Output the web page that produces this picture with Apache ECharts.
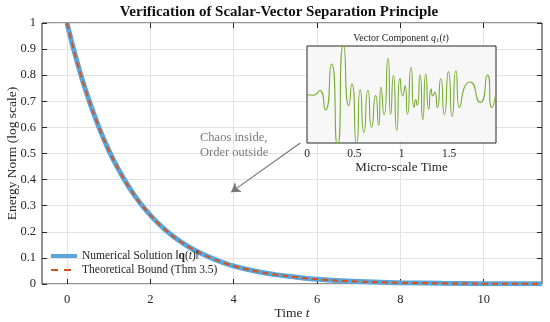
<!DOCTYPE html>
<html>
<head>
<meta charset="utf-8">
<script src="https://cdn.jsdelivr.net/npm/echarts@6/dist/echarts.min.js"></script>
<style>html,body{margin:0;padding:0;background:#fff}#c{width:550px;height:322px}</style>
</head>
<body>
<div id="c"></div>
<script>
// ---- Data ----
var timeT = [0, 0.25, 0.5, 0.75, 1, 1.25, 1.5, 1.75, 2, 2.25, 2.5, 2.75, 3, 3.25, 3.5, 3.75, 4, 4.5, 5, 5.5, 6, 7, 8, 9, 10, 11.4];
var numericalNorm = [1.0, 0.846, 0.717, 0.607, 0.513, 0.435, 0.368, 0.311, 0.264, 0.223, 0.189, 0.16, 0.135, 0.115, 0.097, 0.082, 0.069, 0.05, 0.036, 0.026, 0.018, 0.0095, 0.005, 0.0025, 0.0013, 0.0005];
var theoreticalBound = [1.0, 0.846, 0.717, 0.607, 0.513, 0.435, 0.368, 0.311, 0.264, 0.223, 0.189, 0.16, 0.135, 0.115, 0.097, 0.082, 0.069, 0.05, 0.036, 0.026, 0.018, 0.0095, 0.005, 0.0025, 0.0013, 0.0005];
var xTicks = [0, 2, 4, 6, 8, 10];

var microT = [0, 0.064, 0.134, 0.194, 0.258, 0.322, 0.385, 0.442, 0.473, 0.523, 0.562, 0.60, 0.643, 0.682, 0.724, 0.756, 0.781, 0.813, 0.855, 0.883, 0.912, 0.947, 0.982, 1.01, 1.035, 1.06, 1.098, 1.13, 1.148, 1.162, 1.193, 1.222, 1.254, 1.285, 1.31, 1.328, 1.349, 1.376, 1.412, 1.45, 1.493, 1.532, 1.571, 1.609, 1.722, 1.828, 1.905, 1.952, 1.99];
var vectorQ1 = [0, -0.02, 0.11, -0.43, 0.85, -1.42, 1.38, -0.31, 0.3, -1.4, 0.13, -1.05, 0.11, -0.91, -0.03, -0.86, 0.2, -0.56, 1.01, -0.54, 0.53, -1.0, 0.45, -0.04, 0.24, -0.55, 0.75, -0.36, -0.15, -0.3, 0.55, -0.7, 0.56, -0.41, 0.15, -0.04, 0.06, -0.36, 0.44, -0.55, 0.63, -0.61, 0.66, -0.36, 0.35, -0.22, 0.54, -0.36, -0.02];
var insetXTicks = [0, 0.5, 1, 1.5];
var insetYTicks = [-1, 0, 1];

var arrowFrom = [5.6, 0.54];
var arrowTo = [3.94, 0.352];

function pairs(xs, ys) { return xs.map(function (x, i) { return [x, ys[i]]; }); }

var FONT = '"Liberation Serif", "Times New Roman", serif';
var INK = '#262626';
var chart = echarts.init(document.getElementById('c'), null, {renderer: 'canvas'});

function tickStyle(len, custom) {
  var t = {show: true, inside: true, length: len, lineStyle: {color: INK}};
  if (custom) t.customValues = custom;
  return t;
}
var noLine = {show: false, onZero: false};

var mainX = {
  type: 'value', gridIndex: 0, min: -0.6, max: 11.4,
  axisLine: noLine,
  axisTick: tickStyle(5, xTicks),
  axisLabel: {show: true, customValues: xTicks, margin: 9, color: INK, fontFamily: FONT, fontSize: 12.5},
  splitLine: {show: true, lineStyle: {color: '#e3e3e3', width: 1}},
  name: 'Time {i|t}', nameLocation: 'middle', nameGap: 22, nameMoveOverlap: false,
  nameTextStyle: {fontFamily: FONT, fontSize: 13.5, color: INK, rich: {i: {fontFamily: FONT, fontStyle: 'italic', fontSize: 13.5, color: INK}}}
};
var mainXTop = {
  type: 'value', gridIndex: 0, min: -0.6, max: 11.4, position: 'top',
  axisLine: noLine, axisTick: tickStyle(5, xTicks),
  axisLabel: {show: false}, splitLine: {show: false}
};
var mainY = {
  type: 'value', gridIndex: 0, min: 0, max: 1, interval: 0.1,
  axisLine: noLine, axisTick: tickStyle(5),
  axisLabel: {margin: 6, color: INK, fontFamily: FONT, fontSize: 12.5},
  splitLine: {show: true, lineStyle: {color: '#e3e3e3', width: 1}},
  name: 'Energy Norm (log scale)', nameLocation: 'middle', nameGap: 23, nameMoveOverlap: false,
  nameTextStyle: {fontFamily: FONT, fontSize: 13.5, color: INK}
};
var mainYRight = {
  type: 'value', gridIndex: 0, min: 0, max: 1, interval: 0.1, position: 'right',
  axisLine: noLine, axisTick: tickStyle(5),
  axisLabel: {show: false}, splitLine: {show: false}
};
var insetX = {
  type: 'value', gridIndex: 1, min: 0, max: 1.995,
  axisLine: noLine, axisTick: tickStyle(3, insetXTicks),
  axisLabel: {customValues: insetXTicks, margin: 5, color: INK, fontFamily: FONT, fontSize: 11.5},
  splitLine: {show: false},
  name: 'Micro-scale Time', nameLocation: 'middle', nameGap: 18, nameMoveOverlap: false,
  nameTextStyle: {fontFamily: FONT, fontSize: 13, color: INK}
};
var insetXTop = {
  type: 'value', gridIndex: 1, min: 0, max: 1.995, position: 'top',
  axisLine: noLine, axisTick: tickStyle(3, insetXTicks),
  axisLabel: {show: false}, splitLine: {show: false}
};
var insetY = {
  type: 'value', gridIndex: 1, min: -1.35, max: 1.35,
  axisLine: noLine, axisTick: tickStyle(3, insetYTicks),
  axisLabel: {show: false}, splitLine: {show: false}
};
var insetYRight = {
  type: 'value', gridIndex: 1, min: -1.35, max: 1.35, position: 'right',
  axisLine: noLine, axisTick: tickStyle(3, insetYTicks),
  axisLabel: {show: false}, splitLine: {show: false}
};

chart.setOption({
  animation: false,
  backgroundColor: '#ffffff',
  grid: [
    {left: 42, right: 8, top: 23, bottom: 38, show: true, borderColor: INK, borderWidth: 1, backgroundColor: 'transparent', outerBoundsMode: 'none', containLabel: false},
    {left: 307, top: 46, width: 189, height: 97, show: true, borderColor: INK, borderWidth: 1, backgroundColor: '#f7f7f7', z: 5, outerBoundsMode: 'none', containLabel: false}
  ],
  xAxis: [mainX, mainXTop, insetX, insetXTop],
  yAxis: [mainY, mainYRight, insetY, insetYRight],
  legend: {
    left: 51, top: 250, orient: 'vertical', itemGap: 2, itemWidth: 26, itemHeight: 12, padding: 0,
    symbolKeepAspect: true,
    textStyle: {fontFamily: FONT, fontSize: 11.5, color: INK,
      rich: {b: {fontFamily: FONT, fontWeight: 'bold', fontSize: 11.5, color: INK},
             i: {fontFamily: FONT, fontStyle: 'italic', fontSize: 11.5, color: INK}}},
    data: [
      {name: 'Numerical', icon: 'path://M0,0H26V4H0Z', itemStyle: {color: '#5aa6dc'}},
      {name: 'Theoretical', icon: 'path://M0,0H7V2H0Z M13,0H20V2H13Z M25.9,0H26V2H25.9Z', itemStyle: {color: '#D95319'}}
    ],
    formatter: function (name) {
      return name === 'Numerical' ? 'Numerical Solution \u2016{b|q}({i|t})\u2016' : 'Theoretical Bound (Thm 3.5)';
    }
  },
  graphic: [
    {type: 'text', x: 279, y: 5, z: 10, style: {text: 'Verification of Scalar-Vector Separation Principle', fill: '#111', font: 'bold 15px ' + FONT, textAlign: 'center'}},
    {type: 'text', x: 401, y: 33, z: 10, style: {
      text: 'Vector Component {i|q}{s|1}({i|t})', fill: INK, font: '10px ' + FONT, textAlign: 'center',
      rich: {i: {fontFamily: FONT, fontStyle: 'italic', fontSize: 10, fill: INK}, s: {fontFamily: FONT, fontSize: 7, fill: INK, padding: [4, 0, 0, 0]}}
    }},
    {type: 'text', x: 200, y: 130, z: 10, style: {text: 'Chaos inside,\nOrder outside', fill: '#7a7a7a', font: '12.5px ' + FONT, lineHeight: 15}}
  ],
  series: [
    {
      name: 'Numerical', type: 'line', xAxisIndex: 0, yAxisIndex: 0, symbol: 'none', showSymbol: false, smooth: true,
      data: pairs(timeT, numericalNorm),
      itemStyle: {color: '#5aa6dc'},
      lineStyle: {color: '#5aa6dc', width: 5},
      markLine: {
        silent: true, symbol: ['none', 'arrow'], symbolSize: 9, animation: false,
        label: {show: false}, lineStyle: {color: '#777777', width: 1.2, type: 'solid'},
        itemStyle: {color: '#777777'},
        data: [[{coord: arrowFrom}, {coord: arrowTo}]]
      },
      z: 2
    },
    {
      name: 'Theoretical', type: 'line', xAxisIndex: 0, yAxisIndex: 0, symbol: 'none', showSymbol: false, smooth: true,
      data: pairs(timeT, theoreticalBound),
      itemStyle: {color: '#D95319'},
      lineStyle: {color: '#D95319', width: 2, type: [6, 4]},
      z: 3
    },
    {
      name: 'q1', type: 'line', xAxisIndex: 2, yAxisIndex: 2, symbol: 'none', showSymbol: false, smooth: 0.8,
      data: pairs(microT, vectorQ1),
      lineStyle: {color: '#77AC30', width: 1.1},
      itemStyle: {color: '#77AC30'},
      clip: true, z: 6
    }
  ]
});
</script>
</body>
</html>
